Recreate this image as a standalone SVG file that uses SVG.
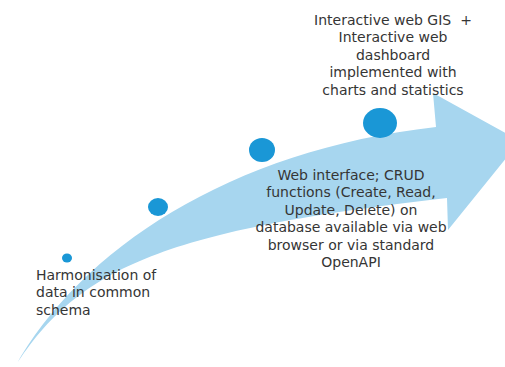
<svg xmlns="http://www.w3.org/2000/svg" width="505" height="367" viewBox="0 0 505 367">
  <style>
    .lbl { font-family: "DejaVu Sans", "Open Sans", sans-serif; font-size: 14px; fill: #353535; }
    .mid { text-anchor: middle; }
    .dot { fill: #1a97d6; }
  </style>
  <rect width="505" height="367" fill="#ffffff"/>
  <g id="connectors">
    <path id="arrow" d="M15,367 C80,250 230,150 436,127 L433,93 L520,141 L448,230 L447,198 C170,230 80,265 15,367 Z" fill="#a7d6ef"/>
  </g>
  <g id="dot1"><ellipse class="dot" cx="67" cy="258" rx="5" ry="4.5"/></g>
  <g id="dot2"><ellipse class="dot" cx="158" cy="207" rx="10" ry="9"/></g>
  <g id="dot3"><ellipse class="dot" cx="262" cy="150" rx="13" ry="12"/></g>
  <g id="dot4"><ellipse class="dot" cx="380" cy="123" rx="17" ry="15"/></g>
  <g id="node-harmonisation">
    <text class="lbl" x="36" y="280">Harmonisation of</text>
    <text class="lbl" x="36" y="297.4">data in common</text>
    <text class="lbl" x="36" y="314.8">schema</text>
  </g>
  <g id="node-web-interface">
    <text class="lbl mid" x="351" y="180">Web interface; CRUD</text>
    <text class="lbl mid" x="351" y="197.4">functions (Create, Read,</text>
    <text class="lbl mid" x="351" y="214.8">Update, Delete) on</text>
    <text class="lbl mid" x="351" y="232.2">database available via web</text>
    <text class="lbl mid" x="351" y="249.6">browser or via standard</text>
    <text class="lbl mid" x="351" y="267">OpenAPI</text>
  </g>
  <g id="node-gis">
    <text class="lbl mid" x="393" y="25" style="white-space:pre">Interactive web GIS  +</text>
    <text class="lbl mid" x="393" y="42.4">Interactive web</text>
    <text class="lbl mid" x="393" y="59.8">dashboard</text>
    <text class="lbl mid" x="393" y="77.2">implemented with</text>
    <text class="lbl mid" x="393" y="94.6">charts and statistics</text>
  </g>
</svg>
